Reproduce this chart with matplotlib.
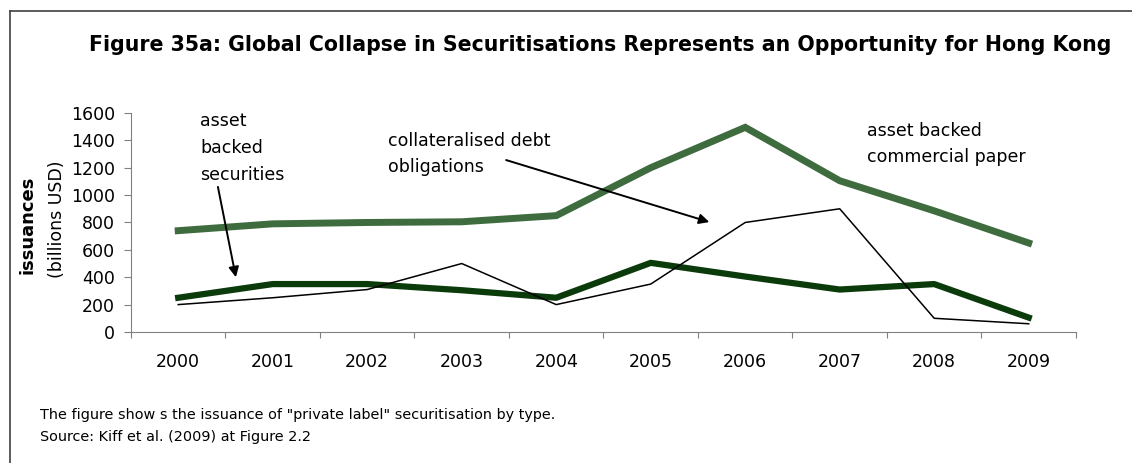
import numpy as np
import matplotlib.pyplot as plt
from matplotlib.lines import Line2D

plt.rcParams['font.family'] = ['DejaVu Sans']

years = ['2000', '2001', '2002', '2003', '2004', '2005', '2006', '2007', '2008', '2009']
abcp = [740, 790, 800, 805, 850, 1200, 1495, 1105, 885, 650]
abs_ = [250, 350, 350, 305, 250, 505, 405, 310, 350, 105]
cdo = [200, 250, 310, 500, 200, 350, 800, 900, 100, 60]

fig = plt.figure(figsize=(11.32, 4.63), dpi=100)
ax = fig.add_axes([0.1157, 0.283, 0.8348, 0.473])

x = np.arange(len(years))
ax.plot(x, abcp, color='#3e6c3e', lw=5, solid_joinstyle='miter')
ax.plot(x, abs_, color='#0b3a0b', lw=4.5)
ax.plot(x, cdo, color='black', lw=1.1)

ax.set_xlim(-0.5, len(years) - 0.5)
ax.set_ylim(0, 1600)
ax.set_yticks(range(0, 1601, 200))
ax.set_xticks(np.arange(len(years) + 1) - 0.5)
ax.set_xticklabels([])
ax.set_xticks(x, minor=True)
ax.set_xticklabels(years, minor=True)
ax.tick_params(axis='x', which='major', length=4, color='#808080', direction='out')
ax.tick_params(axis='x', which='minor', length=0, pad=15, labelsize=12.5)
ax.tick_params(axis='y', length=5, color='#808080', labelsize=12.5, pad=6.5)
for s in ['top', 'right']:
    ax.spines[s].set_visible(False)
for s in ['left', 'bottom']:
    ax.spines[s].set_color('#808080')

# annotations
arrow = dict(arrowstyle='-|>', color='black', lw=1.4, mutation_scale=15, shrinkA=0, shrinkB=0)
ax.annotate('', xy=(0.61, 400), xytext=(0.42, 1060), arrowprops=arrow)
fig.text(200 / 1132, 1 - 148 / 463, 'asset\nbacked\nsecurities', fontsize=12.5,
         va='center', ha='left', linespacing=1.62)
ax.annotate('', xy=(5.62, 803), xytext=(3.47, 1256), arrowprops=arrow)
fig.text(388 / 1132, 1 - 154 / 463, 'collateralised debt\nobligations', fontsize=12.5,
         va='center', ha='left', linespacing=1.62)
fig.text(867 / 1132, 1 - 144 / 463, 'asset backed\ncommercial paper', fontsize=12.5,
         va='center', ha='left', linespacing=1.62)

# y label
fig.text(28 / 1132, 1 - 225 / 463, 'issuances', rotation=90, fontsize=13,
         fontweight='bold', va='center', ha='center')
fig.text(57 / 1132, 1 - 219 / 463, '(billions USD)', rotation=90, fontsize=12.5,
         va='center', ha='center')

fig.text(600 / 1132, 1 - 45 / 463,
         'Figure 35a: Global Collapse in Securitisations Represents an Opportunity for Hong Kong',
         fontsize=14.8, fontweight='bold', ha='center', va='center')

fig.text(40 / 1132, 1 - 415 / 463,
         'The figure show s the issuance of "private label" securitisation by type.',
         fontsize=10.4, va='center', ha='left')
fig.text(40 / 1132, 1 - 437 / 463, 'Source: Kiff et al. (2009) at Figure 2.2',
         fontsize=10.4, va='center', ha='left')

# outer frame (top and left edges only visible)
fig.add_artist(Line2D([10 / 1132, 1], [1 - 11 / 463, 1 - 11 / 463], color='#404040', lw=1.2))
fig.add_artist(Line2D([10 / 1132, 10 / 1132], [0, 1 - 11 / 463], color='#404040', lw=1.2))

fig.savefig('out.png', dpi=100)
